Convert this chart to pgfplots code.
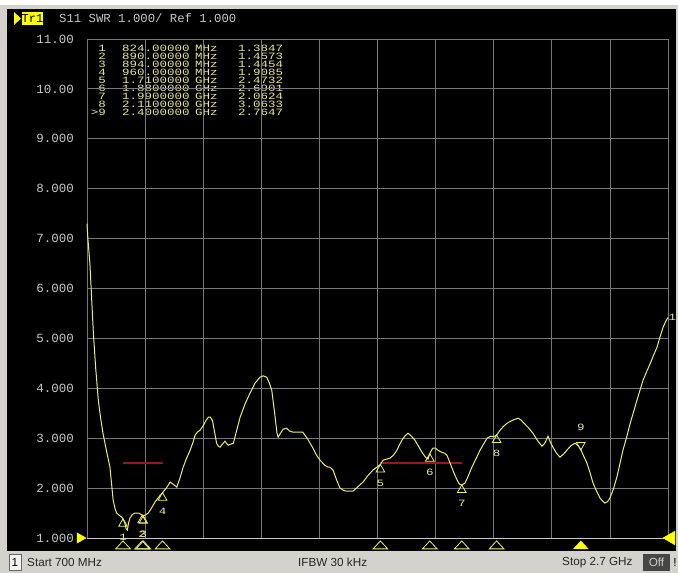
\documentclass[border=0pt]{standalone}
\usepackage{pgfplots}
\pgfplotsset{compat=1.18}
\usepackage{pgfplotstable}
\usepackage{fontspec}
\setmainfont{Liberation Sans}
\newfontfamily\monofont{Liberation Mono}
\newfontfamily\tabfont[FakeStretch=1.3]{Liberation Mono}
\definecolor{trace}{RGB}{238,238,110}
\definecolor{tabtext}{RGB}{232,232,150}
\definecolor{gridc}{RGB}{120,120,120}
\definecolor{labelc}{RGB}{200,200,200}
\definecolor{barc}{RGB}{212,210,204}
\definecolor{limitc}{RGB}{150,25,25}
\definecolor{vyellow}{RGB}{255,255,0}

\pgfplotstableread{
f v
700 7.30
703 7.0
710 6.5
716 5.8
722 5.1
730 4.4
739 3.76
747 3.4
755 3.1
767 2.75
779 2.42
790 1.76
796 1.6
802 1.5
812 1.45
819 1.42
824 1.3847
830 1.30
835 1.18
839 1.16
843 1.3
848 1.4
856 1.47
865 1.5
878 1.5
890 1.4573
894 1.4454
903 1.47
911 1.5
922 1.6
934 1.72
947 1.82
960 1.9085
973 2.0
986 2.12
996 2.08
1009 2.02
1020 2.2
1031 2.42
1043 2.6
1055 2.76
1065 2.92
1072 3.06
1080 3.12
1089 3.16
1100 3.25
1110 3.36
1118 3.42
1125 3.42
1132 3.35
1140 3.1
1146 2.9
1152 2.84
1158 2.82
1166 2.88
1175 2.94
1180 2.9
1186 2.86
1195 2.88
1204 2.9
1215 3.15
1227 3.42
1245 3.7
1261 3.9
1278 4.1
1295 4.22
1307 4.25
1319 4.22
1328 4.1
1336 3.96
1346 3.5
1354 3.1
1358 3.02
1366 3.1
1375 3.18
1387 3.2
1398 3.14
1410 3.12
1425 3.12
1443 3.12
1460 2.98
1478 2.8
1490 2.66
1502 2.56
1520 2.45
1530 2.42
1536 2.42
1547 2.36
1560 2.15
1571 2.0
1584 1.95
1594 1.94
1605 1.94
1616 1.94
1633 2.03
1650 2.12
1667 2.25
1684 2.36
1698 2.42
1710 2.4732
1719 2.56
1731 2.58
1743 2.6
1755 2.66
1767 2.76
1775 2.86
1784 2.96
1795 3.05
1805 3.1
1817 3.04
1829 2.96
1841 2.84
1853 2.72
1865 2.62
1874 2.58
1880 2.6901
1886 2.76
1891 2.8
1900 2.8
1908 2.76
1920 2.72
1930 2.7
1939 2.66
1950 2.5
1962 2.32
1974 2.16
1982 2.08
1990 2.0624
2001 2.1
2013 2.25
2025 2.42
2040 2.6
2053 2.76
2065 2.88
2077 3.0
2090 3.04
2100 3.03
2110 3.0633
2122 3.16
2134 3.24
2146 3.3
2165 3.36
2184 3.4
2195 3.36
2201 3.32
2218 3.22
2235 3.1
2250 2.96
2266 2.84
2276 2.9
2287 3.04
2295 2.92
2304 2.82
2316 2.7
2328 2.62
2340 2.68
2352 2.76
2366 2.85
2380 2.9
2392 2.84
2400 2.7647
2410 2.64
2421 2.5
2432 2.3
2442 2.1
2454 1.94
2466 1.8
2475 1.74
2483 1.7
2492 1.73
2500 1.8
2512 1.98
2524 2.22
2535 2.5
2545 2.76
2558 3.03
2570 3.3
2582 3.54
2593 3.76
2604 3.97
2614 4.16
2627 4.34
2639 4.5
2650 4.66
2662 4.82
2672 5.02
2683 5.22
2692 5.34
2700 5.42
}\trace

\pgfplotstableread{
f v lab
824 1.3847 1
890 1.4573 2
894 1.4454 3
960 1.9085 4
1710 2.4732 5
1880 2.6901 6
1990 2.0624 7
2110 3.0633 8
}\mk

\begin{document}
\begin{tikzpicture}[x=1pt,y=1pt]
% window background
\fill[white] (0,0) rectangle (678,573);
\fill[barc] (0,0) rectangle (678,568);
\fill[black] (7,22) rectangle (676,564);
% status bar
\draw[gray!80!black, fill=gray!10] (9,3) rectangle (21,19);
\node[font=\fontsize{11.7}{12}\selectfont, text=black, inner sep=0pt] at (15,10.5) {1};
\node[font=\fontsize{11.7}{12}\selectfont, text=black!85, anchor=west, inner sep=0pt] at (27,10.5) {Start 700 MHz};
\node[font=\fontsize{11.7}{12}\selectfont, text=black!85, anchor=west, inner sep=0pt] at (298,10.5) {IFBW 30 kHz};
\node[font=\fontsize{11.7}{12}\selectfont, text=black!85, anchor=west, inner sep=0pt] at (562,10.5) {Stop 2.7 GHz};
\fill[gray!55!black] (643,2) rectangle (670,19);
\node[font=\fontsize{11.7}{12}\selectfont, text=gray!40, inner sep=0pt] at (656.5,10.5) {Off};
\node[font=\fontsize{11.7}{12}\selectfont, text=black, inner sep=0pt] at (675,10.5) {!};
% header
\fill[vyellow] (14,561) -- (21,554.5) -- (14,548) -- cycle;
\fill[vyellow] (22,548) rectangle (43,561);
\node[font=\monofont\fontsize{12}{12}\selectfont, text=black, inner sep=0pt] at (32.5,554.5) {Tr1};
\node[font=\monofont\fontsize{12.3}{13}\selectfont, text=labelc, anchor=west, inner sep=0pt] at (59,554.5) {S11 SWR 1.000/ Ref 1.000};
% marker table
\tikzset{tabcell/.style={font=\tabfont\fontsize{9.6}{8}\selectfont, text=tabtext, inner sep=0pt, text height=6.6pt, text depth=0pt}}
\foreach \i/\a/\b/\c/\d in {0/1/824.00000/MHz/1.3847, 1/2/890.00000/MHz/1.4573, 2/3/894.00000/MHz/1.4454, 3/4/960.00000/MHz/1.9085, 4/5/1.7100000/GHz/2.4732, 5/6/1.8800000/GHz/2.6901, 6/7/1.9900000/GHz/2.0624, 7/8/2.1100000/GHz/3.0633, 8/>9/2.4000000/GHz/2.7647}{
  \node[tabcell, anchor=base east] at (106,521.5-8*\i) {\a};
  \node[tabcell, anchor=base west] at (122,521.5-8*\i) {\b};
  \node[tabcell, anchor=base west] at (195,521.5-8*\i) {\c};
  \node[tabcell, anchor=base west] at (238,521.5-8*\i) {\d};
}
\begin{axis}[
  at={(87pt,35pt)}, anchor=south west,
  scale only axis, width=581pt, height=499pt,
  xmin=700, xmax=2700, ymin=1, ymax=11,
  xtick={700,900,...,2700}, xticklabels={},
  ytick={1,2,...,11},
  yticklabels={1.000,2.000,3.000,4.000,5.000,6.000,7.000,8.000,9.000,10.00,11.00},
  grid=major,
  major grid style={draw=gridc, line width=0.8pt},
  axis line style={draw=gridc, line width=0.8pt},
  major tick length=0pt,
  yticklabel style={font=\monofont\fontsize{12.5}{13}\selectfont, text=labelc, anchor=east, inner sep=0pt, xshift=-13pt},
  clip=false,
]
\draw[labelc, line width=0.8pt] (axis cs:700,1) -- (axis cs:2700,1);
\addplot[limitc, line width=1.4pt] coordinates {(824,2.5) (960,2.5)};
\addplot[limitc, line width=1.4pt] coordinates {(1710,2.5) (1990,2.5)};
\addplot[trace, line width=1.0pt] table[x=f, y=v] {\trace};
% markers on the trace
\addplot[only marks, mark=triangle, mark size=5pt,
  mark options={draw=trace, yshift=-5pt, line width=0.8pt},
  nodes near coords, point meta=explicit symbolic,
  every node near coord/.style={anchor=north, yshift=-10pt, inner sep=0pt,
    font=\tabfont\fontsize{9.6}{10}\selectfont, text=tabtext}]
  table[x=f, y=v, meta=lab] {\mk};
\addplot[only marks, mark=triangle, mark size=5pt,
  mark options={draw=trace, yshift=5pt, rotate=180, line width=0.8pt},
  nodes near coords, point meta=explicit symbolic,
  every node near coord/.style={anchor=south, yshift=14pt, inner sep=0pt,
    font=\tabfont\fontsize{9.6}{10}\selectfont, text=tabtext}]
  coordinates {(2400,2.7647) [9]};
% stimulus markers below the grid
\addplot[only marks, mark=triangle, mark size=5.3pt,
  mark options={draw=trace, xscale=1.6, line width=0.8pt}]
  coordinates {(824,0.835) (890,0.835) (894,0.835) (960,0.835) (1710,0.835) (1880,0.835) (1990,0.835) (2110,0.835)};
\addplot[only marks, mark=triangle*, mark size=5.3pt,
  mark options={draw=vyellow, fill=vyellow, xscale=1.6}]
  coordinates {(2400,0.835)};
% reference-level arrows
\addplot[only marks, mark=triangle*, mark size=6pt,
  mark options={draw=vyellow, fill=vyellow, xshift=-7pt, rotate=-90}]
  coordinates {(700,1)};
\addplot[only marks, mark=triangle*, mark size=8pt,
  mark options={draw=vyellow, fill=vyellow, xshift=3pt, rotate=90}]
  coordinates {(2700,1)};
\addplot[draw=none, nodes near coords, point meta=explicit symbolic,
  every node near coord/.style={anchor=west, xshift=0.5pt, inner sep=0pt,
    font=\tabfont\fontsize{9.6}{10}\selectfont, text=tabtext}]
  coordinates {(2700,5.42) [1]};
\end{axis}
\pgfresetboundingbox
\path[use as bounding box] (0,0) rectangle (678,573);
\end{tikzpicture}
\end{document}
